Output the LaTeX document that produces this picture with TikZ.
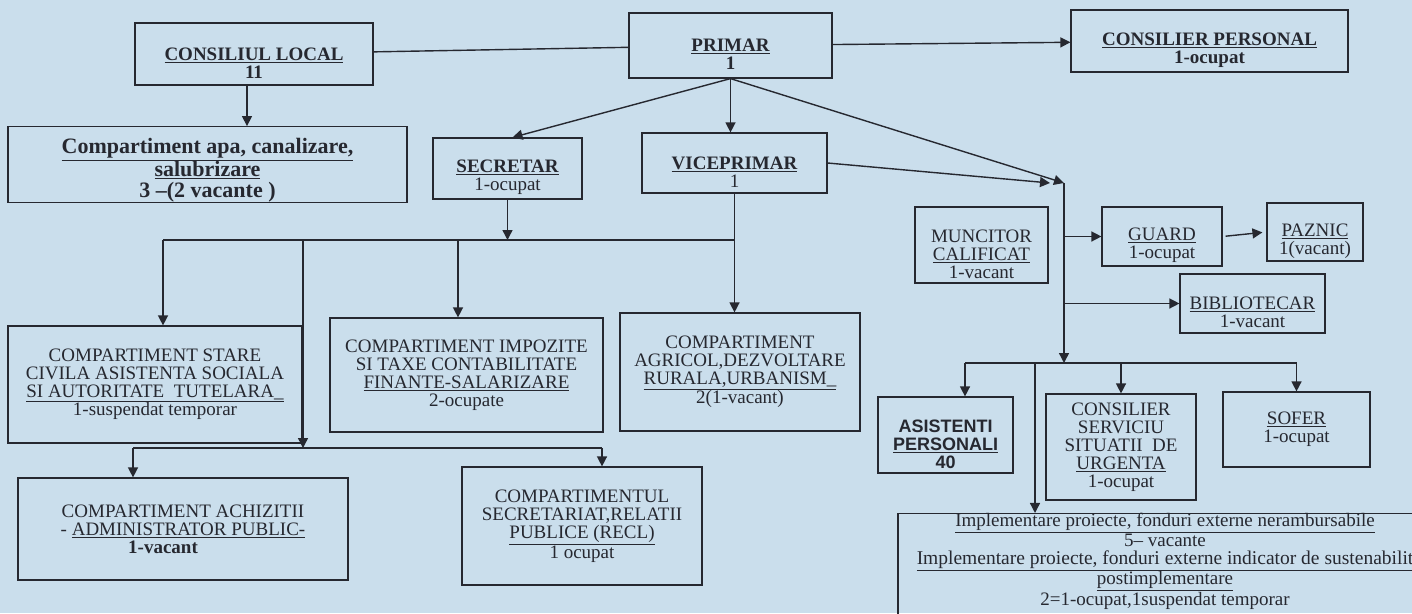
\documentclass[tikz,border=0pt]{standalone}
\usepackage{fontspec}
\setmainfont{Liberation Serif}
\setsansfont{Liberation Sans}
\usetikzlibrary{arrows.meta}
\definecolor{paper}{RGB}{202,222,236}
\definecolor{ink}{RGB}{38,40,48}

\begin{document}
\begin{tikzpicture}[x=1pt, y=-1pt, >={Triangle[length=10pt,width=10pt]},
every node/.style = {rectangle, draw=ink, line width=1.2pt, align=center, inner sep=0pt,
                     text=ink, font=\fontsize{19}{18}\selectfont},
link/.style = {draw=ink, line width=1.4pt},
big/.style = {font=\fontsize{22}{21}\selectfont\bfseries}]
\useasboundingbox (0,0) rectangle (1412,613);
\clip (0,0) rectangle (1412,613);
\fill[paper] (0,0) rectangle (1412,613);

% top row
\node[minimum width=238pt, minimum height=62pt] (ConsiliulLocal) at (254,54) {\strut\\\textbf{\underline{CONSILIUL LOCAL}}\\\textbf{11}};
\node[minimum width=203pt, minimum height=65pt] (Primar) at (730.5,45.5) {\strut\\\textbf{\underline{PRIMAR}}\\\textbf{1}};
\node[minimum width=277pt, minimum height=62pt] (ConsilierPersonal) at (1209.5,41) {\strut\\\textbf{\underline{CONSILIER PERSONAL}}\\\textbf{1-ocupat}};
\node[big, minimum width=399pt, minimum height=75pt] (CompApa) at (207.5,164.5) {\rule{0pt}{27pt}\underline{Compartiment apa, canalizare,}\\\underline{salubrizare}\\3 –(2 vacante )};
\node[minimum width=149pt, minimum height=61pt] (Secretar) at (507.5,168.5) {\strut\\\textbf{\underline{SECRETAR}}\\1-ocupat};
\node[minimum width=185pt, minimum height=60pt] (Viceprimar) at (734.5,163) {\strut\\\textbf{\underline{VICEPRIMAR}}\\1};

% right column
\node[minimum width=133pt, minimum height=76pt] (Muncitor) at (981.5,245) {\strut\\MUNCITOR\\\underline{CALIFICAT}\\1-vacant};
\node[minimum width=120pt, minimum height=59pt] (Guard) at (1162,236.5) {\strut\\\underline{GUARD}\\1-ocupat};
\node[minimum width=96pt, minimum height=58pt] (Paznic) at (1315,232) {\strut\\\underline{PAZNIC}\\1(vacant)};
\node[minimum width=145pt, minimum height=59pt] (Bibliotecar) at (1252.5,303.5) {\strut\\\underline{BIBLIOTECAR}\\1-vacant};
\node[font=\fontsize{18}{18}\selectfont\sffamily\bfseries, minimum width=135pt, minimum height=76pt] (Asistenti) at (945.5,435) {\strut\\ASISTENTI\\\underline{PERSONALI}\\40};
\node[minimum width=150pt, minimum height=106pt] (ConsilierServiciu) at (1121,447) {CONSILIER\\SERVICIU\\SITUATII~~DE\\\underline{URGENTA}\\1-ocupat};
\node[minimum width=147pt, minimum height=75pt] (Sofer) at (1296.5,429.5) {\underline{SOFER}\\1-ocupat};
\node[minimum width=534pt, minimum height=130pt] (Implementare) at (1165,580) {\underline{Implementare proiecte, fonduri externe nerambursabile}\\5– vacante\\{\fontsize{19.5}{18}\selectfont\underline{Implementare proiecte, fonduri externe indicator de sustenabilit}}\\\underline{postimplementare}\\2=1-ocupat,1suspendat temporar\\\strut\\\strut};

% compartments
\node[minimum width=294pt, minimum height=117pt] (CompStare) at (155,384.5) {COMPARTIMENT STARE\\CIVILA ASISTENTA SOCIALA\\\underline{SI AUTORITATE~~TUTELARA\_}\\1-suspendat temporar};
\node[minimum width=273pt, minimum height=114pt] (CompImpozite) at (466.5,375) {COMPARTIMENT IMPOZITE\\SI TAXE CONTABILITATE\\\underline{FINANTE-SALARIZARE}\\2-ocupate};
\node[minimum width=240pt, minimum height=118pt] (CompAgricol) at (740,372) {COMPARTIMENT\\AGRICOL,DEZVOLTARE\\\underline{RURALA,URBANISM\_}\\2(1-vacant)};
\node[minimum width=330pt, minimum height=102pt] (CompAchizitii) at (183,529) {COMPARTIMENT ACHIZITII\\- \underline{ADMINISTRATOR PUBLIC-}\\\hspace*{-40pt}\textbf{1-vacant}};
\node[minimum width=240pt, minimum height=118pt] (CompSecretariat) at (582,526) {COMPARTIMENTUL\\SECRETARIAT,RELATII\\\underline{PUBLICE (RECL)}\\1 ocupat};

% mayor and council
\draw[link] (ConsiliulLocal) -- (Primar);
\draw[link, ->] (Primar) -- (ConsilierPersonal);
\draw[link, ->] ([xshift=-7pt]ConsiliulLocal.south) -- ([xshift=-7pt]ConsiliulLocal.south |- CompApa.north);
\draw[link, ->] (Primar.south) -- ([xshift=5pt]Secretar.north);
\draw[link, ->] (Primar.south) -- (Primar.south |- Viceprimar.north);
\coordinate (RightHub) at (1064,183);
\draw[link, ->] (Primar.south) -- (RightHub);
\draw[link, ->] (Viceprimar.east) -- ([xshift=-14pt]RightHub);

% right branch
\coordinate (RightBus) at (1064,363);
\draw[link, ->] (RightHub) -- (RightBus);
\draw[link, ->] (RightHub |- Guard.west) -- (Guard.west);
\draw[link, ->] (RightHub |- Bibliotecar.west) -- (Bibliotecar.west);
\draw[link, ->, shorten <=3pt, shorten >=4pt] (Guard.east) -- (Paznic.west);
\coordinate (AsistentiDrop) at (965,363);
\coordinate (ImplementareDrop) at (1035,363);
\draw[link] (AsistentiDrop) -- (Sofer.north |- RightBus);
\draw[link, ->] (AsistentiDrop) -- (AsistentiDrop |- Asistenti.north);
\draw[link, ->] (ConsilierServiciu.north |- RightBus) -- (ConsilierServiciu.north);
\draw[link, ->] (Sofer.north |- RightBus) -- (Sofer.north);
\draw[link, ->] (ImplementareDrop) -- (ImplementareDrop |- Implementare.north);

% left branch
\coordinate (MidBus) at (163,240);
\draw[link, ->] (Secretar.south) -- (Secretar.south |- MidBus);
\draw[link] (MidBus) -- (Viceprimar.south |- MidBus);
\draw[link, ->] (Viceprimar.south) -- (Viceprimar.south |- CompAgricol.north);
\draw[link, ->] (MidBus) -- (MidBus |- CompStare.north);
\coordinate (ImpozitDrop) at (458,240);
\draw[link, ->] (ImpozitDrop) -- (ImpozitDrop |- CompImpozite.north);
\coordinate (StareDrop) at (303,240);
\coordinate (LowBus) at (303,448);
\draw[link, ->] (StareDrop) -- (LowBus);
\coordinate (AchizitiiDrop) at (133,448);
\coordinate (SecretariatDrop) at (602,448);
\draw[link] (AchizitiiDrop) -- (SecretariatDrop);
\draw[link, ->] (AchizitiiDrop) -- (AchizitiiDrop |- CompAchizitii.north);
\draw[link, ->] (SecretariatDrop) -- (SecretariatDrop |- CompSecretariat.north);
\end{tikzpicture}
\end{document}
